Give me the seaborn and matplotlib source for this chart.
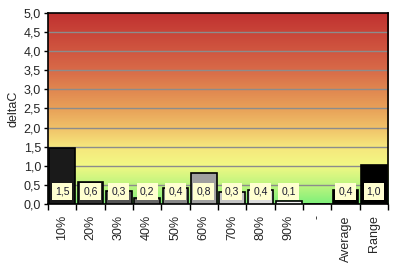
import matplotlib
matplotlib.use("Agg")
import matplotlib.pyplot as plt
import seaborn as sns
import numpy as np
from matplotlib.colors import LinearSegmentedColormap

categories = ["10%", "20%", "30%", "40%", "50%", "60%", "70%", "80%", "90%", "-", "Average", "Range"]
values = [1.47, 0.58, 0.34, 0.17, 0.41, 0.80, 0.32, 0.36, 0.08, 0.0, 0.38, 1.02]
labels = ["1,5", "0,6", "0,3", "0,2", "0,4", "0,8", "0,3", "0,4", "0,1", "", "0,4", "1,0"]
bar_colors = ["#1a1a1a", "#333333", "#555555", "#666666", "#888888", "#a0a0a0",
              "#c4c4c4", "#dcdcdc", "#f4f4f4", "#ffffff", "#000000", "#000000"]
yticks = [0, 0.5, 1.0, 1.5, 2.0, 2.5, 3.0, 3.5, 4.0, 4.5, 5.0]
ytick_labels = ["0,0", "0,5", "1,0", "1,5", "2,0", "2,5", "3,0", "3,5", "4,0", "4,5", "5,0"]

sns.set_style("white")
plt.rcParams['font.family'] = ['Liberation Sans', 'DejaVu Sans']

fig = plt.figure(figsize=(3.96, 2.63), dpi=100)
ax = fig.add_axes([0.121, 0.224, 0.859, 0.727])

# background gradient
stops = [(0.0, "#7ef07a"), (0.08, "#b4f47e"), (0.2, "#f2f884"), (0.3, "#f6e67c"),
         (0.4, "#f0c068"), (0.5, "#e8a058"), (0.6, "#e08650"), (0.7, "#d86a48"),
         (0.8, "#d05640"), (0.9, "#c84438"), (1.0, "#c03030")]
cmap = LinearSegmentedColormap.from_list("bg", stops)
grad = np.linspace(0, 1, 256).reshape(-1, 1)
ax.imshow(grad, cmap=cmap, origin="lower", aspect="auto",
          extent=[-0.5, len(categories) - 0.5, 0, 5], zorder=0)

sns.barplot(x=categories, y=values, hue=categories, palette=bar_colors, legend=False,
            edgecolor="black", linewidth=1.2, width=0.9, ax=ax, zorder=3)

ax.set_xlim(-0.5, len(categories) - 0.5)
ax.set_ylim(0, 5)
ax.set_yticks(yticks)
ax.set_yticklabels(ytick_labels, fontsize=9)
for y in yticks[1:-1]:
    ax.axhline(y, color="#8c8c8c", linewidth=1.0, zorder=1)

for i, lab in enumerate(labels):
    if lab:
        ax.text(i, 0.33, lab, ha="center", va="center", fontsize=7.5, color="#1a1a30",
                bbox=dict(boxstyle="square,pad=0.3", facecolor="#ffffd0", edgecolor="none"),
                zorder=5)

ax.set_xticks(range(len(categories)))
ax.set_xticklabels(categories, rotation=90, fontsize=9)
ax.tick_params(axis="x", which="major", length=0, pad=8)
ax.set_xticks(np.arange(-0.5, len(categories), 1.0), minor=True)
ax.tick_params(axis="x", which="minor", length=4, width=1, color="black", direction="out", bottom=True)
ax.tick_params(axis="y", length=3, width=1, color="black", direction="out", left=True, pad=2)
ax.set_xlabel("")
ax.set_ylabel("deltaC", fontsize=9, labelpad=3)

for s in ax.spines.values():
    s.set_color("black")
    s.set_linewidth(1.2)
    s.set_visible(True)

fig.savefig("out.png", dpi=100)
